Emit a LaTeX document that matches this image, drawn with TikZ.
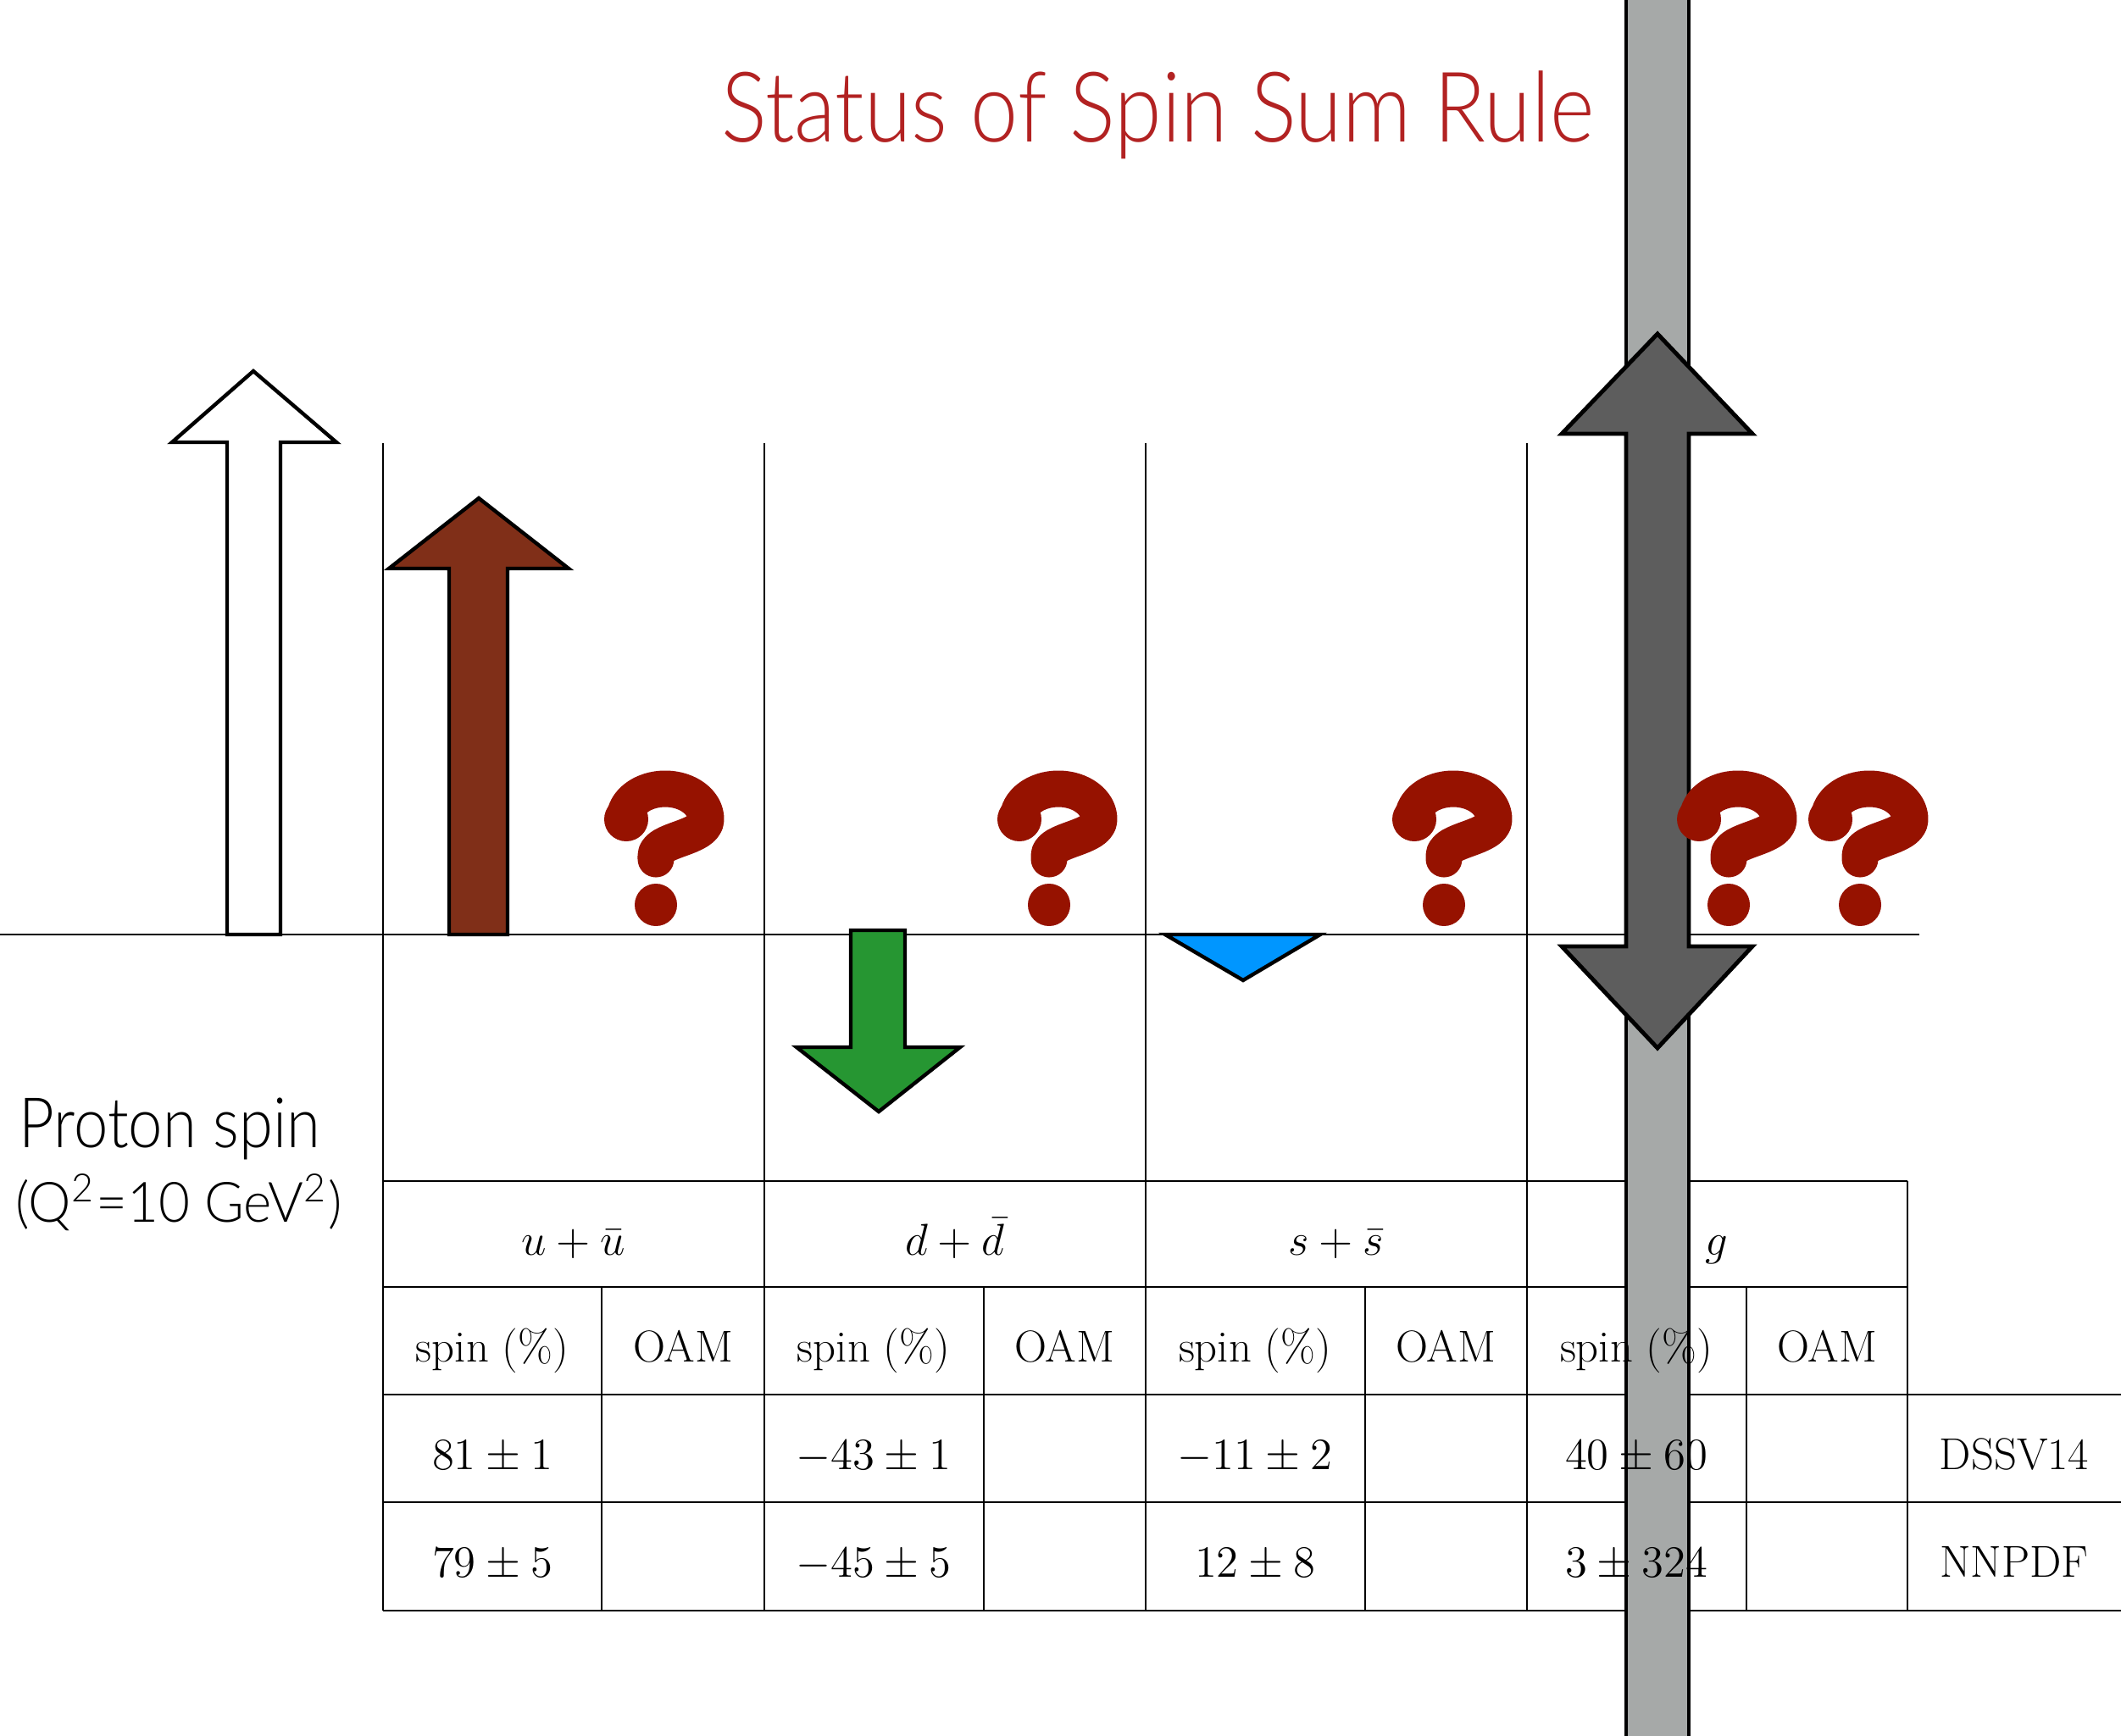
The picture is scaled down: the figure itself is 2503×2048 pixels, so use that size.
\RequirePackage{fix-cm}
\documentclass[tikz,border=0pt]{standalone}
\usepackage{fontspec}
\usepackage{graphicx}
\newfontfamily\humfont{Lato Light}
\definecolor{titlered}{RGB}{178,34,34}
\definecolor{qred}{RGB}{150,18,0}
\definecolor{brownarrow}{RGB}{128,47,24}
\definecolor{greenarrow}{RGB}{38,150,50}
\definecolor{bluetri}{RGB}{0,150,255}
\definecolor{darkarrow}{RGB}{93,93,93}
\definecolor{bargray}{RGB}{166,169,168}
\tikzset{
  qmark/.pic={
    \fill[qred] (27,57) circle[radius=26];
    \draw[qred,line width=0.43cm,line cap=round,line join=round]
      (25,57) arc[start angle=180,end angle=360,x radius=48,y radius=36]
      .. controls (121,80) and (62,80) .. (62,100) -- (62,104);
    \fill[qred] (62,158) circle[radius=25];
  },
  cell/.style={anchor=base,inner sep=0pt,font=\fontsize{15}{18}\selectfont},
  tline/.style={line width=0.7pt},
  secline/.style={line width=0.55pt},
  bigarrow/.style={draw=black,line width=1.25pt,line join=miter},
}
\begin{document}
\begin{tikzpicture}[x=0.01cm,y=-0.01cm]
\useasboundingbox[fill=white] (0,0) rectangle (2503,2048);

% axis
\coordinate (axL) at (0,1103);
\coordinate (axR) at (2265,1103);
\draw[line width=0.65pt] (axL) -- (axR);

% section lines
\foreach \xx in {452,902,1352,1802}
  \draw[secline] (\xx,523) -- (\xx,1394);

% table lines
\draw[tline] (452,1394) -- (2251,1394);
\draw[tline] (452,1519) -- (2251,1519);
\draw[tline] (452,1646) -- (2510,1646);
\draw[tline] (452,1773) -- (2510,1773);
\draw[tline] (452,1901) -- (2510,1901);
\foreach \xx in {452,902,1352,1802,2251}
  \draw[tline] (\xx,1394) -- (\xx,1901);
\foreach \xx in {710,1161,1611,2061}
  \draw[tline] (\xx,1519) -- (\xx,1901);

% table text
\node[cell] (hu) at (677,1481) {$u+\bar{u}$};
\node[cell] (hd) at (1127,1481) {$d+\bar{d}$};
\node[cell] (hs) at (1577,1481) {$s+\bar{s}$};
\node[cell] (hg) at (2026,1481) {$g$};

\node[cell] (su) at (581,1607) {spin (\%)};
\node[cell] (ou) at (806,1607) {OAM};
\node[cell] (sd) at (1031,1607) {spin (\%)};
\node[cell] (od) at (1256,1607) {OAM};
\node[cell] (ss) at (1481,1607) {spin (\%)};
\node[cell] (os) at (1706,1607) {OAM};
\node[cell] (og) at (2156,1607) {OAM};

\node[cell] (u1) at (581,1734) {$81\pm1$};
\node[cell] (d1) at (1031,1734) {$-43\pm1$};
\node[cell] (s1) at (1481,1734) {$-11\pm2$};
\node[cell] (l1) at (2377,1734) {DSSV14};

\node[cell] (u2) at (581,1861) {$79\pm5$};
\node[cell] (d2) at (1031,1861) {$-45\pm5$};
\node[cell] (s2) at (1481,1861) {$12\pm8$};
\node[cell] (l2) at (2377,1861) {NNPDF};

% arrows
\draw[bigarrow,fill=white] (268,1103) -- (268,522) -- (203,522) -- (299,438)
  -- (397,522) -- (331,522) -- (331,1103) -- cycle;
\draw[bigarrow,fill=brownarrow] (530,1103) -- (530,671) -- (459,671) -- (565,588)
  -- (671,671) -- (599,671) -- (599,1103) -- cycle;
\draw[bigarrow,fill=greenarrow] (1004,1098) -- (1068,1098) -- (1068,1236) -- (1133,1236)
  -- (1037,1312) -- (940,1236) -- (1004,1236) -- cycle;
\draw[bigarrow,fill=bluetri] (1375,1103) -- (1558,1103) -- (1467,1157) -- cycle;

% single question marks
\pic at (712,910) {qmark};
\pic at (1176,910) {qmark};
\pic at (1642,910) {qmark};

% gray bar: fill, then the gluon column texts on it, then its borders
\fill[bargray] (1919,-20) rectangle (1993,2070);
\node[cell] (sg) at (1931,1607) {spin (\%)};
\node[cell] (g1) at (1931,1734) {$40\pm60$};
\node[cell] (g2) at (1931,1861) {$3\pm324$};
\draw[line width=1.4pt] (1919,-20) -- (1919,2070);
\draw[line width=1.4pt] (1993,-20) -- (1993,2070);

% double arrow
\draw[line width=1.4pt,line join=miter,fill=darkarrow] (1919,512) -- (1843,512) -- (1956,394)
  -- (2068,512) -- (1993,512) -- (1993,1117) -- (2068,1117) -- (1956,1237)
  -- (1843,1117) -- (1919,1117) -- cycle;

% double question marks
\pic at (1978,910) {qmark};
\pic at (2133,910) {qmark};

% labels
\node[anchor=north west,inner sep=0pt,text=titlered] (title) at (851,83)
  {\resizebox*{10.29cm}{1.04cm}{\humfont Status of Spin Sum Rule}};
\node[anchor=north west,inner sep=0pt] (proton) at (22,1295)
  {\resizebox*{3.55cm}{0.73cm}{\humfont Proton spin}};
\node[anchor=north west,inner sep=0pt] (qsq) at (18,1385)
  {\resizebox*{3.85cm}{0.67cm}{\humfont (Q\textsuperscript{2}=10 GeV\textsuperscript{2})}};
\end{tikzpicture}
\end{document}
